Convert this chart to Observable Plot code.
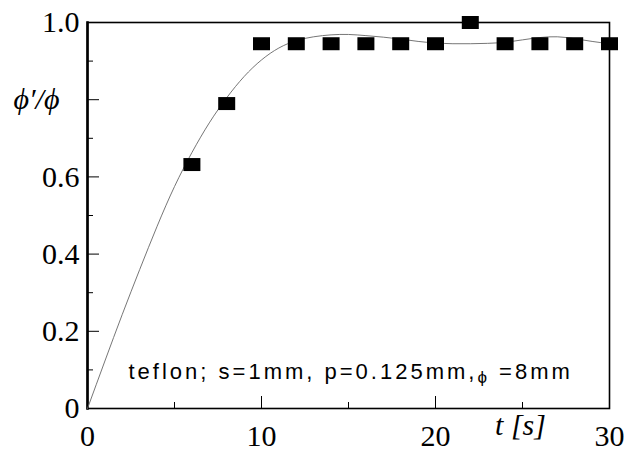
<!DOCTYPE html>
<html>
<head>
<meta charset="utf-8">
<script src="https://cdn.jsdelivr.net/npm/d3@7"></script>
<script src="https://cdn.jsdelivr.net/npm/@observablehq/plot@0.6"></script>
<style>
  html, body { margin: 0; padding: 0; background: #fff; }
</style>
</head>
<body>
<div id="chart"></div>
<script>
// measured points
const pointT = [6, 8, 10, 12, 14, 16, 18, 20, 22, 24, 26, 28, 30];
const pointRatio = [0.632, 0.79, 0.945, 0.945, 0.945, 0.945, 0.945, 0.945, 1.0, 0.945, 0.945, 0.945, 0.945];

// fitted curve
const curveT = [0, 1, 2, 3, 4, 5, 6, 7, 8, 9, 10, 11, 12, 13, 14, 15, 16, 17, 18, 19, 20, 21, 22, 23, 24, 25, 26, 27, 28, 29, 30];
const curveRatio = [0, 0.123, 0.244, 0.36, 0.472, 0.575, 0.663, 0.74, 0.805, 0.86, 0.903, 0.934, 0.953, 0.963, 0.968, 0.969, 0.966, 0.962, 0.957, 0.951, 0.947, 0.945, 0.945, 0.946, 0.949, 0.955, 0.961, 0.963, 0.958, 0.951, 0.945];

// ticks
const xMajorTicks = [0, 10, 20, 30];
const xMajorLabels = ["0", "10", "20", "30"];
const xMinorTicks = [5, 15, 25];
const yMajorTicks = [0, 0.2, 0.4, 0.6, 0.8, 1.0];
const yMajorLabels = ["0", "0.2", "0.4", "0.6", "", "1.0"];
const yMinorTicks = [0.1, 0.3, 0.5, 0.7, 0.9];

const xLabel = "t [s]";
const yLabel = "\u03D5\u2032/\u03D5";
const annoParts = ["teflon; s=1mm, p=0.125mm,", "\u03D5", " =8mm"];
const annoText = annoParts.join("");

const points = pointT.map((t, i) => ({t, r: pointRatio[i]}));
const curve = curveT.map((t, i) => ({t, r: curveRatio[i]}));

const rectSymbol = {
  draw(context) {
    context.rect(-8.5, -6.5, 17, 13);
  }
};

const serif = "'Liberation Serif', 'DejaVu Serif', serif";
const sans = "'Liberation Sans', Arial, sans-serif";

const chart = Plot.plot({
  width: 628,
  height: 451,
  marginLeft: 87,
  marginRight: 19,
  marginTop: 22,
  marginBottom: 43,
  style: {fontFamily: serif, fontSize: "30px", color: "black", background: "white"},
  x: {domain: [0, 30], axis: null},
  y: {domain: [0, 1], axis: null},
  marks: [
    Plot.axisX(xMinorTicks, {anchor: "bottom", tickSize: -6, tickFormat: () => "", strokeWidth: 1, label: null}),
    Plot.axisX(xMajorTicks, {anchor: "bottom", tickSize: -12, tickPadding: 28, strokeWidth: 1, label: null,
      tickFormat: (d) => xMajorLabels[xMajorTicks.indexOf(d)], fontSize: 30, fontFamily: serif}),
    Plot.axisY(yMinorTicks, {anchor: "left", tickSize: -6, tickFormat: () => "", strokeWidth: 1, label: null}),
    Plot.axisY(yMajorTicks, {anchor: "left", tickSize: -12, tickPadding: 20, strokeWidth: 1, label: null,
      tickFormat: (d) => yMajorLabels[yMajorTicks.indexOf(d)], fontSize: 30, fontFamily: serif}),
    Plot.frame({stroke: "black", strokeWidth: 1.6}),
    Plot.frame({anchor: "left", stroke: "black", strokeWidth: 2.6}),
    Plot.line(curve, {x: "t", y: "r", curve: "natural", stroke: "#666", strokeWidth: 0.9}),
    Plot.dot(points, {x: "t", y: "r", symbol: rectSymbol, fill: "black", stroke: "none", r: 5}),
    Plot.text([yLabel], {frameAnchor: "left", dx: -51, dy: -116, textAnchor: "middle",
      fontStyle: "italic", fontFamily: serif, fontSize: 30}),
    Plot.text([xLabel], {frameAnchor: "bottom", dx: 172, dy: 26, textAnchor: "middle",
      fontStyle: "italic", fontFamily: serif, fontSize: 30}),
    Plot.text([annoText], {frameAnchor: "bottom-left", dx: 41, dy: -30, textAnchor: "start",
      fontFamily: sans, fontSize: 22})
  ]
});

document.getElementById("chart").appendChild(chart);

// rebuild the annotation with a lowered, smaller phi and wide letter spacing
d3.select(chart).selectAll("text")
  .filter(function () { return this.textContent === annoText; })
  .each(function () {
    const t = d3.select(this);
    t.text(null).attr("letter-spacing", "3px");
    t.append("tspan").text(annoParts[0]);
    t.append("tspan").attr("font-size", 17).attr("dy", 4).text(annoParts[1]);
    t.append("tspan").attr("dy", -4).text(annoParts[2]);
  });
</script>
</body>
</html>
